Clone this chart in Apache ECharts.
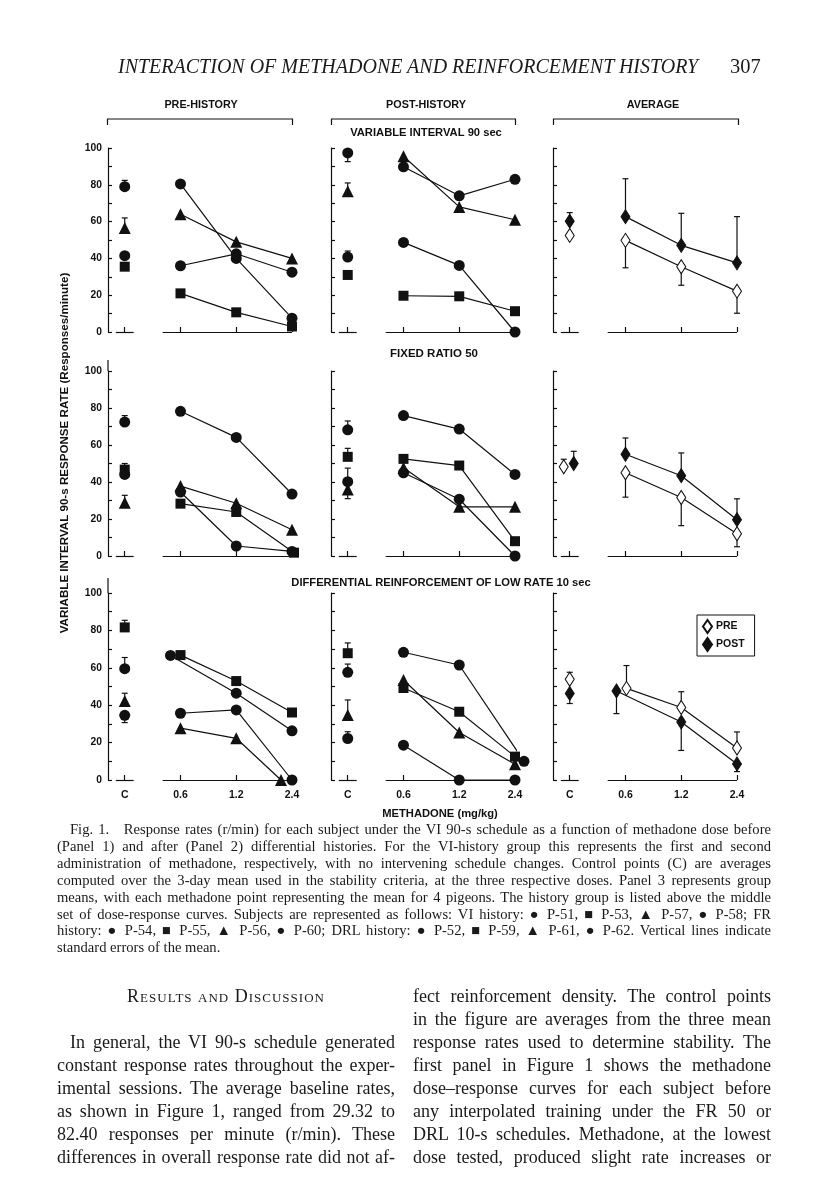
<!DOCTYPE html>
<html>
<head>
<meta charset="utf-8">
<script src="https://cdn.jsdelivr.net/npm/echarts@6/dist/echarts.min.js"></script>
<style>
html, body { margin: 0; padding: 0; background: #fff; }
#page { position: relative; width: 816px; height: 1193px; overflow: hidden; background: #fff; }
#chart { position: absolute; left: 0; top: 0; width: 816px; height: 1193px; }
.serif { font-family: "Liberation Serif", "DejaVu Serif", serif; color: #1a1a1a; position: absolute; white-space: nowrap; }
#hdr { left: 118px; top: 55px; font-style: italic; font-size: 20px; }
#pg { left: 730px; top: 55px; font-size: 20.5px; }
#cap { left: 57px; top: 821px; width: 714px; font-size: 14.6px; line-height: 16.9px; white-space: normal; }
#cap div, .col div { text-align: justify; text-align-last: justify; white-space: nowrap; }
#cap div.last { text-align-last: left; }
#cap div.first { padding-left: 13px; }
.col { position: absolute; font-family: "Liberation Serif", "DejaVu Serif", serif; color: #1a1a1a; font-size: 18px; line-height: 23px; }
#colL { left: 57px; top: 985px; width: 338px; }
#colR { left: 413px; top: 985px; width: 358px; }
#colL div.head { text-align: center; text-align-last: center; font-variant: small-caps; letter-spacing: 1px; }
#colL div.ind { padding-left: 13px; }
</style>
</head>
<body>
<div id="page">
  <div id="chart"></div>
  <div id="hdr" class="serif">INTERACTION OF METHADONE AND REINFORCEMENT HISTORY</div>
  <div id="pg" class="serif">307</div>
  <div id="cap" class="serif"></div>
  <div id="colL" class="col"></div>
  <div id="colR" class="col"></div>
</div>
<script>
// ---------------- DATA (responses/minute) at [C, 0.6, 1.2, 2.4] ----------------
const doseLabels = ['C', '0.6', '1.2', '2.4'];
const yTickLabels = [0, 20, 40, 60, 80, 100];

// VARIABLE INTERVAL 90 sec
const viPreCircleA   = [79.0, 80.5, 40.0, 7.5];
const viPreSquare    = [35.5, 21.0, 10.7, 3.0];
const viPreTriangle  = [56.5, 64.0, 49.0, 40.0];
const viPreCircleB   = [41.5, 36.0, 42.5, 32.5];
const viPreCtrlSE    = [82.4, null, 62.0, null];

const viPostCircleA  = [97.3, 89.8, 74.0, 83.0];
const viPostSquare   = [31.0, 19.7, 19.4, 11.3];
const viPostTriangle = [76.5, 95.5, 68.0, 61.0];
const viPostCircleB  = [40.7, 48.7, 36.2, 0.0];
const viPostCtrlSE   = [92.6, null, 81.0, 44.0];

const viAvgPre       = [52.5, 49.8, 35.5, 22.2];
const viAvgPreSE     = [null, 34.9, 25.4, 10.2];
const viAvgPost      = [60.2, 62.7, 47.1, 37.6];
const viAvgPostSE    = [64.9, 83.3, 64.5, 62.7];

// FIXED RATIO 50
const frPreCircleA   = [72.4, 78.2, 64.1, 33.5];
const frPreSquare    = [46.7, 28.3, 23.8, 1.8];
const frPreTriangle  = [28.8, 37.8, 28.5, 14.2];
const frPreCircleB   = [44.1, 34.6, 5.4, 2.5];
const frPreCtrlSE    = [75.9, 50.0, 32.8, null];

const frPostCircleA  = [68.2, 75.9, 68.6, 44.1];
const frPostSquare   = [53.6, 52.5, 48.9, 8.0];
const frPostTriangle = [36.0, 47.7, 26.6, 26.6];
const frPostCircleB  = [40.2, 45.0, 30.7, 0.0];
const frPostCtrlSE   = [73.0, 58.2, 31.0, 47.5];

const frAvgPre       = [48.2, 45.0, 31.6, 12.0];
const frAvgPreSE     = [52.3, 31.8, 16.4, 5.0];
const frAvgPost      = [50.0, 55.0, 43.4, 19.6];
const frAvgPostSE    = [56.6, 63.8, 55.7, 30.9];

// DIFFERENTIAL REINFORCEMENT OF LOW RATE 10 sec
const drlPreCircleA   = [59.5, 66.6, 46.4, 26.3];
const drlPreSquare    = [81.6, 66.8, 52.9, 36.1];
const drlPreTriangle  = [42.3, 27.7, 22.3, 0.0];
const drlPreCircleB   = [34.6, 35.7, 37.5, 0.0];
const drlPreCtrlSE    = [65.5, 85.4, 46.4, 30.7];

const drlPostCircleA  = [57.6, 68.3, 61.5, 10.0];
const drlPostSquare   = [67.8, 49.2, 36.5, 12.5];
const drlPostTriangle = [34.7, 53.5, 25.4, 8.4];
const drlPostCircleB  = [22.2, 18.6, 0.0, 0.0];
const drlPostCtrlSE   = [62.0, 73.3, 42.8, 25.8];

const drlAvgPre       = [53.9, 49.0, 38.8, 17.1];
const drlAvgPreSE     = [57.6, 61.2, 47.2, 25.7];
const drlAvgPost      = [46.3, 47.6, 31.0, 8.6];
const drlAvgPostSE    = [40.9, 35.5, 15.8, 4.5];

// ---------------- LAYOUT / STYLE ----------------
const rows = [{ y100: 148, y0: 332 }, { y100: 371, y0: 556 }, { y100: 593, y0: 780 }];
const cols = [108, 331, 553];
const panelW = 184;
const xMin = -0.3, xMax = 3;
const pxPerUnit = panelW / (xMax - xMin);
const SYM = {
  circle:   { symbol: 'circle', size: 11 },
  square:   { symbol: 'rect', size: 10 },
  triangle: { symbol: 'triangle', size: 12 },
  diamond:  { symbol: 'diamond', size: [9, 14] }
};
const NONE = [0, 0, 0, 0];
// small horizontal display nudges (pixels) seen in the original figure
const subjectPanels = [
  { r: 0, c: 0, se: viPreCtrlSE,  subs: [[viPreCircleA, 'circle', NONE], [viPreSquare, 'square', NONE], [viPreTriangle, 'triangle', NONE], [viPreCircleB, 'circle', NONE]] },
  { r: 0, c: 1, se: viPostCtrlSE, subs: [[viPostCircleA, 'circle', NONE], [viPostSquare, 'square', NONE], [viPostTriangle, 'triangle', NONE], [viPostCircleB, 'circle', NONE]] },
  { r: 1, c: 0, se: frPreCtrlSE,  subs: [[frPreCircleA, 'circle', NONE], [frPreSquare, 'square', [0, 0, 0, 2]], [frPreTriangle, 'triangle', NONE], [frPreCircleB, 'circle', NONE]] },
  { r: 1, c: 1, se: frPostCtrlSE, subs: [[frPostCircleA, 'circle', NONE], [frPostSquare, 'square', NONE], [frPostTriangle, 'triangle', NONE], [frPostCircleB, 'circle', NONE]] },
  { r: 2, c: 0, se: drlPreCtrlSE, subs: [[drlPreCircleA, 'circle', [0, -10, 0, 0]], [drlPreSquare, 'square', NONE], [drlPreTriangle, 'triangle', [0, 0, 0, -11]], [drlPreCircleB, 'circle', NONE]] },
  { r: 2, c: 1, se: drlPostCtrlSE, subs: [[drlPostCircleA, 'circle', [0, 0, 0, 9]], [drlPostSquare, 'square', NONE], [drlPostTriangle, 'triangle', NONE], [drlPostCircleB, 'circle', NONE]] }
];
const avgPanels = [
  { r: 0, c: 2, pre: [viAvgPre, viAvgPreSE, NONE],  post: [viAvgPost, viAvgPostSE, NONE] },
  { r: 1, c: 2, pre: [frAvgPre, frAvgPreSE, [-6, 0, 0, 0]],  post: [frAvgPost, frAvgPostSE, [4, 0, 0, 0]] },
  { r: 2, c: 2, pre: [drlAvgPre, drlAvgPreSE, [0, 1, 0, 0]], post: [drlAvgPost, drlAvgPostSE, [0, -9, 0, 0]] }
];

const FONT = '"Liberation Sans", Arial, sans-serif';
const INK = '#111';
const LW = 1.2;
const grids = [], xAxes = [], yAxes = [], series = [];

function addAxes(r, c) {
  const row = rows[r];
  const idx = grids.length;
  grids.push({ left: cols[c], top: row.y100, width: panelW, height: row.y0 - row.y100, containLabel: false });
  xAxes.push({
    gridIndex: idx, type: 'value', min: xMin, max: xMax,
    axisLine: { show: false, onZero: false }, splitLine: { show: false },
    axisTick: { show: true, inside: true, length: 5, customValues: [0, 1, 2, 3], lineStyle: { color: INK, width: LW } },
    axisLabel: { show: r === 2, customValues: [0, 1, 2, 3], margin: 10,
      formatter: v => doseLabels[Math.round(v)], color: INK, fontFamily: FONT, fontWeight: 'bold', fontSize: 10.5 }
  });
  yAxes.push({
    gridIndex: idx, type: 'value', min: 0, max: 100, interval: 10,
    axisLine: { show: true, onZero: false, lineStyle: { color: INK, width: LW } },
    axisTick: { show: true, inside: true, length: 4, lineStyle: { color: INK, width: LW } },
    splitLine: { show: false },
    axisLabel: { show: c === 0, margin: 6, color: INK, fontFamily: FONT, fontWeight: 'bold', fontSize: 10.3,
      formatter: v => (yTickLabels.indexOf(v) >= 0 ? String(v) : '') }
  });
  // broken baseline segments (axis decoration)
  series.push({
    type: 'scatter', xAxisIndex: idx, yAxisIndex: idx, data: [], silent: true,
    markLine: { silent: true, symbol: 'none', label: { show: false }, animation: false,
      lineStyle: { color: INK, width: LW, type: 'solid' },
      data: [[{ coord: [-0.16, 0] }, { coord: [0.16, 0] }], [{ coord: [0.68, 0] }, { coord: [3, 0] }]] }
  });
  return idx;
}

function errSeries(idx, items) {
  series.push({
    type: 'custom', xAxisIndex: idx, yAxisIndex: idx, z: 1, silent: true, clip: false,
    data: items,
    renderItem: function (params, api) {
      const p1 = api.coord([api.value(0), api.value(1)]);
      const p2 = api.coord([api.value(0), api.value(2)]);
      return { type: 'group', children: [
        { type: 'line', shape: { x1: p1[0], y1: p1[1], x2: p2[0], y2: p2[1] }, style: { stroke: INK, lineWidth: LW } },
        { type: 'line', shape: { x1: p2[0] - 3, y1: p2[1], x2: p2[0] + 3, y2: p2[1] }, style: { stroke: INK, lineWidth: LW } }
      ] };
    }
  });
}

const xPos = (i, nudge) => i + (nudge[i] || 0) / pxPerUnit;

subjectPanels.forEach(p => {
  const idx = addAxes(p.r, p.c);
  const errs = [];
  p.subs.forEach((s, k) => {
    const vals = s[0], sty = SYM[s[1]], nudge = s[2];
    series.push({
      type: 'line', xAxisIndex: idx, yAxisIndex: idx, z: 3, clip: false, animation: false,
      symbol: sty.symbol, symbolSize: sty.size, showSymbol: true,
      itemStyle: { color: INK, opacity: 1 }, lineStyle: { color: INK, width: LW },
      data: [1, 2, 3].map(i => [xPos(i, nudge), vals[i]])
    });
    series.push({
      type: 'scatter', xAxisIndex: idx, yAxisIndex: idx, z: 3, clip: false, animation: false,
      symbol: sty.symbol, symbolSize: sty.size, itemStyle: { color: INK, opacity: 1 },
      data: [[xPos(0, nudge), vals[0]]]
    });
    if (p.se[k] != null) errs.push([xPos(0, nudge), vals[0], p.se[k]]);
  });
  errSeries(idx, errs);
});

avgPanels.forEach(p => {
  const idx = addAxes(p.r, p.c);
  const errs = [];
  [['PRE', p.pre, true], ['POST', p.post, false]].forEach(([name, d, hollow]) => {
    const vals = d[0], se = d[1], nudge = d[2];
    const st = hollow ? { color: '#fff', borderColor: INK, borderWidth: 1.1, opacity: 1 } : { color: INK, borderColor: INK, borderWidth: 1, opacity: 1 };
    series.push({
      name: name, type: 'line', xAxisIndex: idx, yAxisIndex: idx, z: 3, clip: false, animation: false,
      symbol: 'diamond', symbolSize: SYM.diamond.size, showSymbol: true,
      itemStyle: st, lineStyle: { color: INK, width: LW },
      data: [1, 2, 3].map(i => [xPos(i, nudge), vals[i]])
    });
    series.push({
      name: name, type: 'scatter', xAxisIndex: idx, yAxisIndex: idx, z: 3, clip: false, animation: false,
      symbol: 'diamond', symbolSize: SYM.diamond.size, itemStyle: st,
      data: [[xPos(0, nudge), vals[0]]]
    });
    vals.forEach((v, i) => { if (se[i] != null) errs.push([xPos(i, nudge), v, se[i]]); });
  });
  errSeries(idx, errs);
});

// ---------------- TEXT / DECORATION ----------------
const boldText = (x, y, text, size, align) => ({
  type: 'text', x: x, y: y, silent: true,
  style: { text: text, fill: INK, font: 'bold ' + (size || 10) + 'px ' + FONT, align: align || 'center', verticalAlign: 'middle' }
});
const bracket = (x1, x2) => ({
  type: 'polyline', silent: true,
  shape: { points: [[x1, 125], [x1, 119], [x2, 119], [x2, 125]] },
  style: { stroke: INK, lineWidth: LW, fill: null }
});
const graphics = [
  boldText(201, 105, 'PRE-HISTORY', 10.8),
  boldText(426, 105, 'POST-HISTORY', 10.8),
  boldText(653, 105, 'AVERAGE', 10.8),
  bracket(107.5, 292.5), bracket(331.5, 515.5), bracket(553.5, 738.5),
  boldText(426, 133, 'VARIABLE INTERVAL 90 sec', 11.2),
  boldText(434, 354, 'FIXED RATIO 50', 11.5),
  boldText(441, 583, 'DIFFERENTIAL REINFORCEMENT OF LOW RATE 10 sec', 11.2),
  boldText(440, 814, 'METHADONE (mg/kg)', 11.2),
  Object.assign(boldText(65, 453, 'VARIABLE INTERVAL 90-s RESPONSE RATE (Responses/minute)', 11.6), { rotation: Math.PI / 2 }),
  // extensions of the labelled y axis above 100 in rows 2 and 3
  { type: 'line', silent: true, shape: { x1: 108, y1: 360, x2: 108, y2: 371 }, style: { stroke: INK, lineWidth: LW } },
  { type: 'line', silent: true, shape: { x1: 108, y1: 578, x2: 108, y2: 593 }, style: { stroke: INK, lineWidth: LW } }
];

const chart = echarts.init(document.getElementById('chart'), null, { renderer: 'canvas' });
chart.setOption({
  animation: false,
  backgroundColor: 'transparent',
  grid: grids, xAxis: xAxes, yAxis: yAxes, series: series,
  graphic: graphics,
  legend: {
    data: [{ name: 'PRE', icon: 'diamond' }, { name: 'POST', icon: 'diamond' }],
    orient: 'vertical', left: 697, top: 615,
    padding: [4, 10, 4, 5], itemGap: 3, itemWidth: 9, itemHeight: 13,
    borderColor: INK, borderWidth: 1, borderRadius: 0, selectedMode: false,
    textStyle: { color: INK, fontFamily: FONT, fontWeight: 'bold', fontSize: 10.5, padding: [0, 0, 0, -1] }
  }
});

// ---------------- PAGE TEXT ----------------
const capLines = [
  'Fig. 1.\u2003Response rates (r/min) for each subject under the VI 90-s schedule as a function of methadone dose before',
  '(Panel 1) and after (Panel 2) differential histories. For the VI-history group this represents the first and second',
  'administration of methadone, respectively, with no intervening schedule changes. Control points (C) are averages',
  'computed over the 3-day mean used in the stability criteria, at the three respective doses. Panel 3 represents group',
  'means, with each methadone point representing the mean for 4 pigeons. The history group is listed above the middle',
  'set of dose-response curves. Subjects are represented as follows: VI history: \u25CF P-51, \u25A0 P-53, \u25B2 P-57, \u25CF P-58; FR',
  'history: \u25CF P-54, \u25A0 P-55, \u25B2 P-56, \u25CF P-60; DRL history: \u25CF P-52, \u25A0 P-59, \u25B2 P-61, \u25CF P-62. Vertical lines indicate',
  'standard errors of the mean.'
];
const leftLines = [
  'In general, the VI 90-s schedule generated',
  'constant response rates throughout the exper-',
  'imental sessions. The average baseline rates,',
  'as shown in Figure 1, ranged from 29.32 to',
  '82.40 responses per minute (r/min). These',
  'differences in overall response rate did not af-'
];
const rightLines = [
  'fect reinforcement density. The control points',
  'in the figure are averages from the three mean',
  'response rates used to determine stability. The',
  'first panel in Figure 1 shows the methadone',
  'dose\u2013response curves for each subject before',
  'any interpolated training under the FR 50 or',
  'DRL 10-s schedules. Methadone, at the lowest',
  'dose tested, produced slight rate increases or'
];
function addLines(el, lines, cls) {
  lines.forEach((t, i) => {
    const d = document.createElement('div');
    d.textContent = t;
    const c = cls(i);
    if (c) d.className = c;
    el.appendChild(d);
  });
}
addLines(document.getElementById('cap'), capLines, i => i === 0 ? 'first' : (i === capLines.length - 1 ? 'last' : ''));
const L = document.getElementById('colL');
const h = document.createElement('div'); h.className = 'head'; h.textContent = 'Results and Discussion'; L.appendChild(h);
const sp = document.createElement('div'); sp.innerHTML = '&nbsp;'; L.appendChild(sp);
addLines(L, leftLines, i => i === 0 ? 'ind' : '');
addLines(document.getElementById('colR'), rightLines, () => '');
</script>
</body>
</html>
